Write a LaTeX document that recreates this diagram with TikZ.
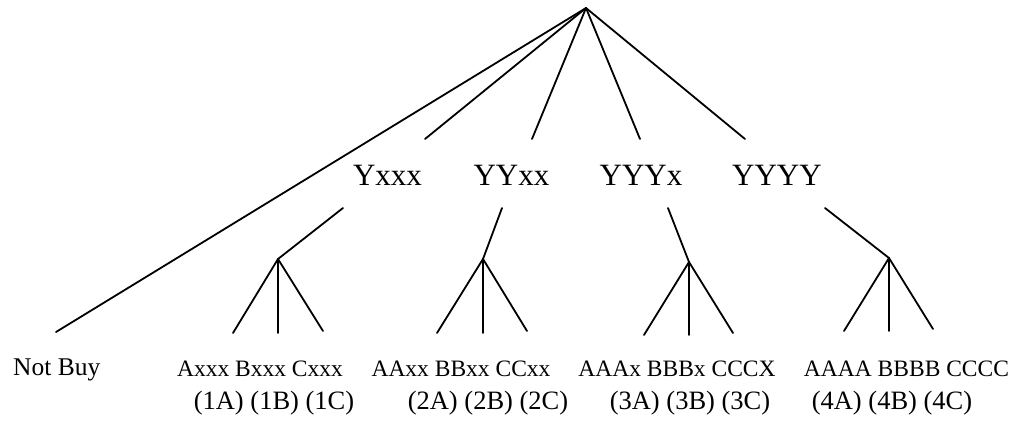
\documentclass[tikz,border=0pt]{standalone}
\usepackage{fontspec}
\setmainfont{Liberation Serif}
\begin{document}
\begin{tikzpicture}[x=1pt,y=-1pt,
  edge/.style={line width=1.8pt,line cap=round},
  midlabel/.style={anchor=base,inner sep=0pt,font=\fontsize{31}{37}\selectfont},
  leaflabel/.style={anchor=base,inner sep=0pt,font=\fontsize{23.5}{28}\selectfont},
  codelabel/.style={anchor=base,inner sep=0pt,font=\fontsize{26.5}{32}\selectfont},
  notbuy/.style={anchor=base west,inner sep=0pt,font=\fontsize{25.5}{30}\selectfont}]
\useasboundingbox (0,0) rectangle (1015,432);

% root and the upper ends of the first-level branches
\coordinate (root) at (586,8);
\coordinate (nb) at (56,332);
\coordinate (b1) at (425,139);
\coordinate (b2) at (532,139);
\coordinate (b3) at (640,139);
\coordinate (b4) at (745,139);

% first-level labels
\node[midlabel] (y1) at (387.5,185) {Yxxx};
\node[midlabel] (y2) at (511.5,185) {YYxx};
\node[midlabel] (y3) at (641,185) {YYYx};
\node[midlabel] (y4) at (777,185) {YYYY};

% stems under the labels and the fan apexes
\coordinate (s1) at (343,208);
\coordinate (s2) at (502,208);
\coordinate (s3) at (668,208);
\coordinate (s4) at (825,208);
\coordinate (f1) at (278,259);
\coordinate (f2) at (483,259);
\coordinate (f3) at (689,262);
\coordinate (f4) at (889,258);

% leaf ends of each fan
\coordinate (l1a) at (233,333); \coordinate (l1b) at (278,333); \coordinate (l1c) at (323,331);
\coordinate (l2a) at (437,333); \coordinate (l2b) at (483,333); \coordinate (l2c) at (527,331);
\coordinate (l3a) at (644,335); \coordinate (l3b) at (689,335); \coordinate (l3c) at (733,333);
\coordinate (l4a) at (844,331); \coordinate (l4b) at (889,331); \coordinate (l4c) at (933,329);

% branches from the root
\draw[edge] (root) -- (nb);
\foreach \b in {b1,b2,b3,b4} \draw[edge] (root) -- (\b);

% second-level links and fans
\draw[edge] (s1) -- (f1);
\draw[edge] (s2) -- (f2);
\draw[edge] (s3) -- (f3);
\draw[edge] (s4) -- (f4);
\foreach \g in {1,2,3,4}
  \foreach \k in {a,b,c}
    \draw[edge] (f\g) -- (l\g\k);

% bottom labels
\node[notbuy] (nbt) at (13,375) {Not Buy};
\node[leaflabel] (t1) at (260,376) {Axxx Bxxx Cxxx};
\node[leaflabel] (t2) at (461,376) {AAxx BBxx CCxx};
\node[leaflabel] (t3) at (677,376) {AAAx BBBx CCCX};
\node[leaflabel] (t4) at (906.5,376) {AAAA BBBB CCCC};

\node[codelabel] (c1) at (274,409) {(1A) (1B) (1C)};
\node[codelabel] (c2) at (488,409) {(2A) (2B) (2C)};
\node[codelabel] (c3) at (690,409) {(3A) (3B) (3C)};
\node[codelabel] (c4) at (892,409) {(4A) (4B) (4C)};
\end{tikzpicture}
\end{document}
